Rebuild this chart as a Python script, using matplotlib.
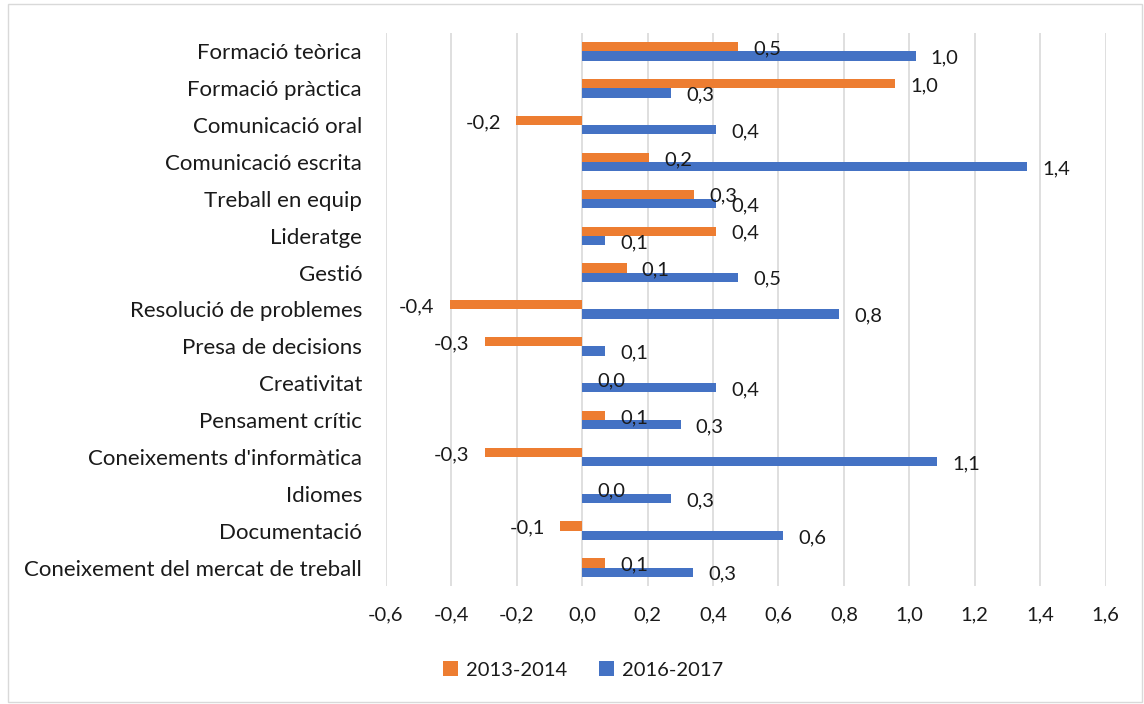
import matplotlib
matplotlib.use("Agg")
import matplotlib.pyplot as plt
from matplotlib.patches import Rectangle

categories = [
    "Formació teòrica", "Formació pràctica", "Comunicació oral",
    "Comunicació escrita", "Treball en equip", "Lideratge", "Gestió",
    "Resolució de problemes", "Presa de decisions", "Creativitat",
    "Pensament crític", "Coneixements d'informàtica", "Idiomes",
    "Documentació", "Coneixement del mercat de treball",
]
series_names = ["2013-2014", "2016-2017"]
vals_2013 = [0.476, 0.955, -0.201, 0.204, 0.341, 0.409, 0.136, -0.405,
             -0.297, 0.0, 0.069, -0.297, 0.0, -0.066, 0.069]
vals_2016 = [1.019, 0.272, 0.409, 1.359, 0.409, 0.069, 0.477, 0.784,
             0.069, 0.409, 0.301, 1.086, 0.272, 0.613, 0.340]
xticks = [-0.6, -0.4, -0.2, 0.0, 0.2, 0.4, 0.6, 0.8, 1.0, 1.2, 1.4, 1.6]

ORANGE = "#ED7D31"
BLUE = "#4472C4"
TXT = "#1a1a1a"
FONT = "Lato"
FS_CAT = 16
FS_NUM = 14.5

plt.rcParams["font.family"] = [FONT, "DejaVu Sans"]

fig = plt.figure(figsize=(11.44, 7.04), dpi=100)
fig.patches.append(Rectangle((8 / 1144, 2 / 704), 1134 / 1144, 698 / 704,
                             transform=fig.transFigure, fill=False,
                             edgecolor="#D9D9D9", linewidth=1.0))
ax = fig.add_axes([385.7 / 1144, 1 - 586 / 704, 720 / 1144, 553 / 704])

h = 0.25
ys = list(range(len(categories)))
ax.barh([y - h / 2 for y in ys], vals_2013, height=h, color=ORANGE,
        label=series_names[0], zorder=3)
ax.barh([y + h / 2 for y in ys], vals_2016, height=h, color=BLUE,
        label=series_names[1], zorder=3)

def fmt(v):
    s = f"{v:.1f}".replace(".", ",")
    return "0,0" if s == "-0,0" else s

for vals, off in ((vals_2013, -h / 2), (vals_2016, h / 2)):
    for y, v in zip(ys, vals):
        if v < 0:
            ax.annotate(fmt(v), (v, y + off), xytext=(-11, -1.5), textcoords="offset points",
                        ha="right", va="center", fontsize=FS_NUM, color=TXT, zorder=4)
        else:
            ax.annotate(fmt(v), (v, y + off), xytext=(11, -1.5), textcoords="offset points",
                        ha="left", va="center", fontsize=FS_NUM, color=TXT, zorder=4)

ax.set_xlim(-0.6, 1.6)
ax.set_ylim(len(categories) - 0.5, -0.5)
ax.set_xticks(xticks)
ax.set_xticklabels([fmt(t) for t in xticks], fontsize=FS_NUM, color=TXT)
ax.set_yticks(ys)
ax.set_yticklabels(categories, fontsize=FS_CAT, color=TXT)
ax.tick_params(axis="both", length=0)
ax.tick_params(axis="y", pad=17)
ax.tick_params(axis="x", pad=15)
ax.grid(axis="x", color="#D9D9D9", linewidth=1.2, zorder=0)
for s in ax.spines.values():
    s.set_visible(False)

fig.legend(loc="center", bbox_to_anchor=(583 / 1144, 1 - 670 / 704), ncol=2,
           frameon=False, fontsize=FS_NUM, handlelength=0.75, handleheight=0.75,
           handletextpad=0.4, columnspacing=1.6, labelcolor=TXT)

fig.savefig("out.png", dpi=100)
